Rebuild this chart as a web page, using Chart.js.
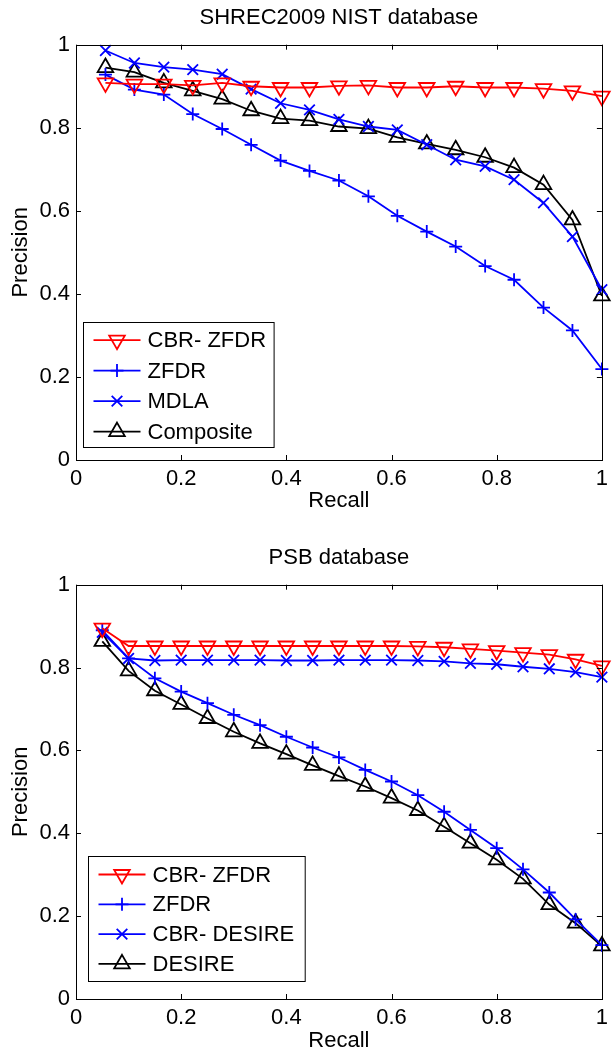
<!DOCTYPE html>
<html>
<head>
<meta charset="utf-8">
<script src="https://cdn.jsdelivr.net/npm/chart.js@4.4.0/dist/chart.umd.min.js"></script>
<style>
html, body { margin: 0; padding: 0; background: #fff; overflow: hidden; }
canvas { position: absolute; left: 0; }
#nist { top: 0; }
#psb { top: 525px; }
</style>
</head>
<body>
<canvas id="nist" width="614" height="525"></canvas>
<canvas id="psb" width="614" height="530"></canvas>
<script>
// SHREC2009 NIST database
var recallNist = [0.056, 0.111, 0.167, 0.222, 0.278, 0.333, 0.389, 0.444, 0.5, 0.556, 0.611, 0.667, 0.722, 0.778, 0.833, 0.889, 0.944, 1];
var cbrZfdrNist = [0.908, 0.905, 0.905, 0.902, 0.908, 0.9, 0.897, 0.897, 0.901, 0.902, 0.897, 0.897, 0.9, 0.897, 0.897, 0.894, 0.889, 0.876];
var zfdrNist = [0.928, 0.892, 0.88, 0.833, 0.797, 0.759, 0.721, 0.696, 0.673, 0.635, 0.588, 0.55, 0.514, 0.467, 0.434, 0.367, 0.312, 0.219];
var mdlaNist = [0.986, 0.956, 0.946, 0.94, 0.929, 0.893, 0.859, 0.843, 0.82, 0.803, 0.795, 0.759, 0.723, 0.707, 0.675, 0.619, 0.538, 0.41];
var compositeNist = [0.945, 0.934, 0.908, 0.889, 0.869, 0.841, 0.822, 0.817, 0.803, 0.798, 0.777, 0.761, 0.747, 0.729, 0.704, 0.663, 0.578, 0.395];

// PSB database
var recallPsb = [0.05, 0.1, 0.15, 0.2, 0.25, 0.3, 0.35, 0.4, 0.45, 0.5, 0.55, 0.6, 0.65, 0.7, 0.75, 0.8, 0.85, 0.9, 0.95, 1];
var cbrZfdrPsb = [0.895, 0.852, 0.852, 0.852, 0.852, 0.852, 0.852, 0.852, 0.852, 0.852, 0.852, 0.852, 0.851, 0.849, 0.845, 0.841, 0.836, 0.831, 0.82, 0.804];
var zfdrPsb = [0.89, 0.822, 0.774, 0.742, 0.714, 0.686, 0.661, 0.633, 0.607, 0.583, 0.553, 0.525, 0.492, 0.452, 0.408, 0.364, 0.313, 0.257, 0.192, 0.13];
var cbrDesirePsb = [0.885, 0.822, 0.817, 0.818, 0.818, 0.818, 0.818, 0.817, 0.817, 0.818, 0.818, 0.818, 0.817, 0.815, 0.81, 0.808, 0.802, 0.797, 0.789, 0.777];
var desirePsb = [0.863, 0.792, 0.744, 0.711, 0.677, 0.645, 0.617, 0.591, 0.564, 0.538, 0.513, 0.485, 0.455, 0.416, 0.376, 0.336, 0.29, 0.228, 0.183, 0.128];

var axisTicks = [0, 0.2, 0.4, 0.6, 0.8, 1];
var axisTickLabels = ["0", "0.2", "0.4", "0.6", "0.8", "1"];

var FONT = "'Liberation Sans', Arial, Helvetica, sans-serif";
Chart.defaults.font.family = FONT;
Chart.defaults.font.size = 22;
Chart.defaults.color = "#000";

function points(xs, ys) {
    return xs.map(function (x, i) {
        return { x: x, y: ys[i] };
    });
}

function series(label, xs, ys, color, marker) {
    var ds = {
        label: label,
        data: points(xs, ys),
        borderColor: color,
        borderWidth: 1.8,
        pointStyle: marker,
        pointRadius: 9,
        pointRotation: 0,
        pointBorderColor: color,
        pointBorderWidth: 1.8,
        pointBackgroundColor: "rgba(0,0,0,0)",
        clip: false,
        tension: 0,
    };
    if (marker == "triangleDown") {
        ds.pointStyle = "triangle";
        ds.pointRotation = 180;
    }
    if (marker == "cross") ds.pointRadius = 6.5;
    if (marker == "crossRot") ds.pointRadius = 7.5;
    return ds;
}

// box, inward ticks on all four sides, legend inside the axes
var framePlugin = {
    id: "frame",
    afterDraw: function (chart, args, opts) {
        var ctx = chart.ctx;
        var a = chart.chartArea;
        var xs = chart.scales.x, ys = chart.scales.y;
        ctx.save();
        ctx.strokeStyle = "#000";
        ctx.lineWidth = 1;
        ctx.beginPath();
        xs.ticks.forEach(function (t) {
            var px = Math.round(xs.getPixelForValue(t.value)) + 0.5;
            ctx.moveTo(px, a.bottom);
            ctx.lineTo(px, a.bottom - 5);
            ctx.moveTo(px, a.top);
            ctx.lineTo(px, a.top + 5);
        });
        ys.ticks.forEach(function (t) {
            var py = Math.round(ys.getPixelForValue(t.value)) + 0.5;
            ctx.moveTo(a.left, py);
            ctx.lineTo(a.left + 5, py);
            ctx.moveTo(a.right, py);
            ctx.lineTo(a.right - 5, py);
        });
        ctx.stroke();
        ctx.strokeRect(Math.round(a.left) + 0.5, Math.round(a.top) + 0.5, Math.round(a.right - a.left), Math.round(a.bottom - a.top));

        var lg = opts.legend;
        var bx = Math.round(a.left + lg.left) + 0.5;
        var by = Math.round(a.bottom - lg.bottom - lg.height) + 0.5;
        ctx.fillStyle = "#fff";
        ctx.fillRect(bx, by, lg.width, lg.height);
        ctx.strokeRect(bx, by, lg.width, lg.height);
        chart.data.datasets.forEach(function (ds, i) {
            var y = by + lg.firstRow + i * lg.row;
            ctx.strokeStyle = ds.borderColor;
            ctx.lineWidth = ds.borderWidth;
            ctx.beginPath();
            ctx.moveTo(bx + 10, y);
            ctx.lineTo(bx + 57, y);
            ctx.stroke();
            ctx.fillStyle = "rgba(0,0,0,0)";
            Chart.helpers.drawPoint(ctx, {
                pointStyle: ds.pointStyle,
                rotation: ds.pointRotation,
                radius: ds.pointRadius,
                borderWidth: ds.pointBorderWidth,
            }, bx + 33.5, y);
            ctx.fillStyle = "#000";
            ctx.font = "22px " + FONT;
            ctx.textBaseline = "middle";
            ctx.textAlign = "left";
            ctx.fillText(ds.label, bx + 64, y + 1);
        });
        ctx.restore();
    },
};

function tickLabel(value) {
    var i = axisTicks.indexOf(Math.round(value * 10) / 10);
    return i >= 0 ? axisTickLabels[i] : "";
}

function prChart(id, title, datasets, lay) {
    return new Chart(document.getElementById(id).getContext("2d"), {
        type: "line",
        data: { datasets: datasets },
        plugins: [framePlugin],
        options: {
            responsive: false,
            animation: false,
            events: [],
            layout: { padding: { left: 0, right: 12, top: 0, bottom: 0 } },
            plugins: {
                legend: { display: false },
                tooltip: { enabled: false },
                title: {
                    display: true,
                    text: title,
                    fullSize: false,
                    color: "#000",
                    font: { size: 22, weight: "normal", lineHeight: 1.2 },
                    padding: { top: lay.titleTop, bottom: lay.titleBottom },
                },
                frame: { legend: lay.legend },
            },
            scales: {
                x: {
                    type: "linear",
                    min: 0,
                    max: 1,
                    afterBuildTicks: function (s) {
                        s.ticks = axisTicks.map(function (v) { return { value: v }; });
                    },
                    afterFit: function (s) { s.height = lay.xHeight; },
                    grid: { display: false, drawTicks: false },
                    border: { display: false },
                    ticks: { padding: 6, maxRotation: 0, autoSkip: false, callback: tickLabel, font: { size: 22, lineHeight: 1.2 } },
                    title: { display: true, text: "Recall", font: { size: 22, lineHeight: 1 }, padding: { top: 0, bottom: lay.recallPad } },
                },
                y: {
                    type: "linear",
                    min: 0,
                    max: 1,
                    afterBuildTicks: function (s) {
                        s.ticks = axisTicks.map(function (v) { return { value: v }; });
                    },
                    afterFit: function (s) { s.width = 76; },
                    grid: { display: false, drawTicks: false },
                    border: { display: false },
                    ticks: { padding: 6, autoSkip: false, callback: tickLabel, font: { size: 22, lineHeight: 1.2 } },
                    title: { display: true, text: "Precision", font: { size: 22, lineHeight: 1 }, padding: { top: 9.5, bottom: 0 } },
                },
            },
        },
    });
}

var chartNist = prChart("nist", "SHREC2009 NIST database", [
    series("CBR- ZFDR", recallNist, cbrZfdrNist, "#ff0000", "triangleDown"),
    series("ZFDR", recallNist, zfdrNist, "#0000ff", "cross"),
    series("MDLA", recallNist, mdlaNist, "#0000ff", "crossRot"),
    series("Composite", recallNist, compositeNist, "#000000", "triangle"),
], {
    titleTop: 5, titleBottom: 13.3, xHeight: 65, recallPad: 13.5,
    legend: { left: 6.7, bottom: 13.3, width: 190.6, height: 125, firstRow: 17.6, row: 30.5 },
});

var chartPsb = prChart("psb", "PSB database", [
    series("CBR- ZFDR", recallPsb, cbrZfdrPsb, "#ff0000", "triangleDown"),
    series("ZFDR", recallPsb, zfdrPsb, "#0000ff", "cross"),
    series("CBR- DESIRE", recallPsb, cbrDesirePsb, "#0000ff", "crossRot"),
    series("DESIRE", recallPsb, desirePsb, "#000000", "triangle"),
], {
    titleTop: 20, titleBottom: 13.3, xHeight: 56, recallPad: 3.3,
    legend: { left: 12.3, bottom: 18, width: 216.7, height: 125, firstRow: 18, row: 29.8 },
});
</script>
</body>
</html>
